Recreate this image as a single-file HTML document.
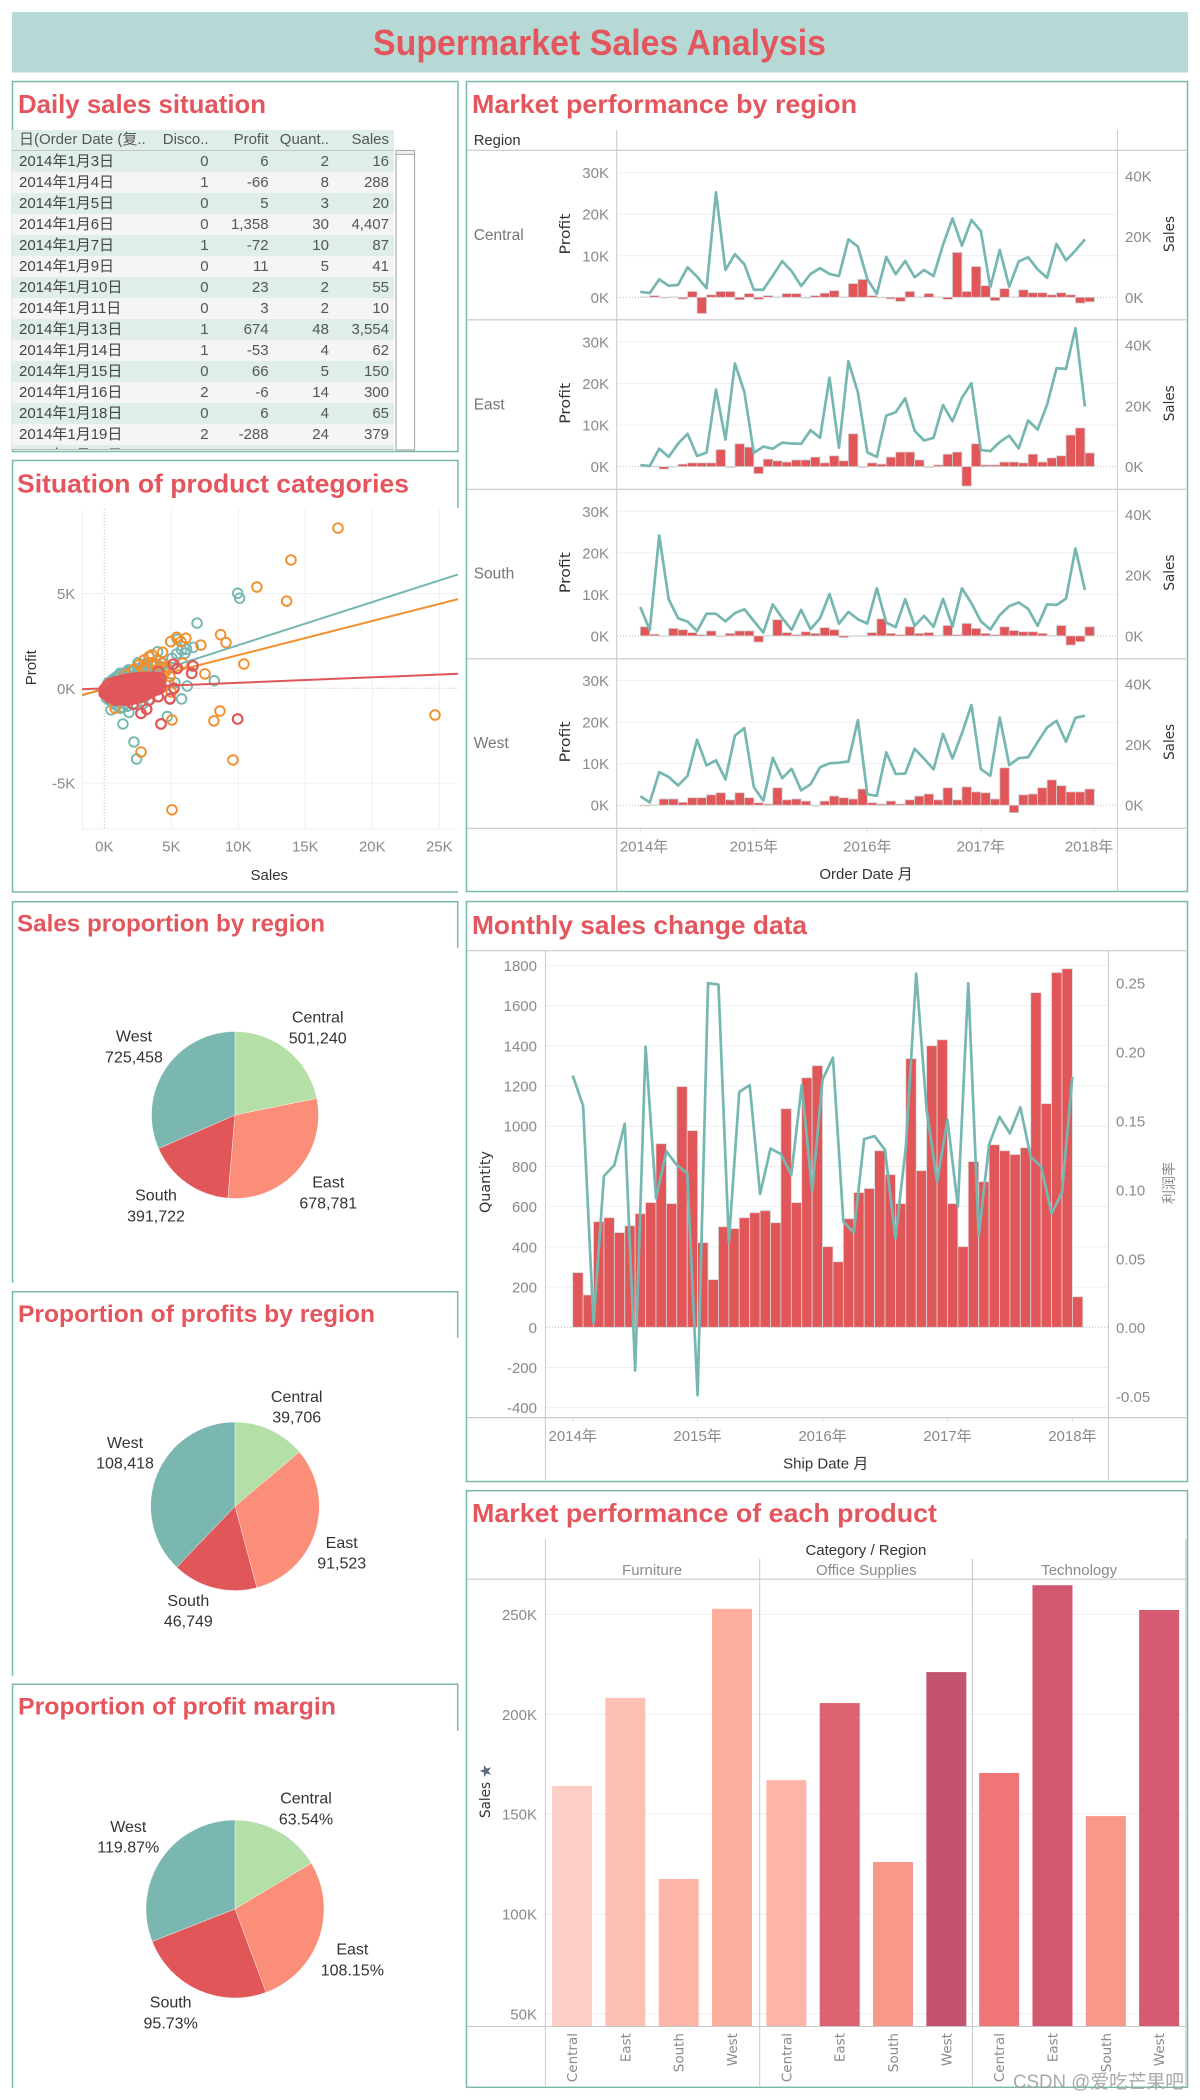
<!DOCTYPE html>
<html lang="en">
<head>
<meta charset="utf-8">
<title>Supermarket Sales Analysis</title>
<style>
  html,body{margin:0;padding:0;background:#fff;}
  #page{position:relative;width:1200px;height:2100px;overflow:hidden;background:#fff;font-family:"Liberation Sans","Noto Sans CJK SC",sans-serif;}
  #dash{position:absolute;left:0;top:0;}
  #dash text{font-family:"Liberation Sans","Noto Sans CJK SC",sans-serif;}
  #dash text.wide{font-family:"DejaVu Sans","Liberation Sans",sans-serif;}
  #table-wrap{position:absolute;left:12px;top:130px;width:382px;height:320px;overflow:hidden;border-bottom:1px solid #bbb;box-sizing:border-box;}
  #daily-table{border-collapse:collapse;table-layout:fixed;width:382px;font-size:15px;color:#555;}
  #daily-table th{height:20px;line-height:20px;padding:0 5px 0 0;background:#dfeeea;font-weight:normal;text-align:right;color:#555;border-bottom:1px solid #c4c4c4;white-space:nowrap;overflow:hidden;box-sizing:border-box;}
  #daily-table td{height:21px;line-height:21px;padding:0 5px 0 0;text-align:right;white-space:nowrap;overflow:hidden;box-sizing:border-box;}
  #daily-table th:first-child,#daily-table td:first-child{text-align:left;padding-left:7px;}
  #daily-table td:first-child{color:#444;}
  #daily-table tr:nth-child(odd) td{background:#dfeeea;}
  #daily-table tr:nth-child(even) td{background:#f5f5f5;}
</style>
</head>
<body>
<div id="page">
<svg id="dash" width="1200" height="2100" viewBox="0 0 1200 2100" xmlns="http://www.w3.org/2000/svg">
  <rect x="12" y="12" width="1176" height="60.5" fill="#b7d9d6"/>
  <text x="373" y="55" font-size="36" font-weight="bold" fill="#e4565d" textLength="453" lengthAdjust="spacingAndGlyphs">Supermarket Sales Analysis</text>

  <g fill="none" stroke="#7ab8ae" stroke-width="1.5">
    <rect x="12.5" y="81.5" width="445.5" height="370"/>
    <rect x="466.5" y="81.5" width="721" height="810"/>
    <path d="M458 508V460.5H12.5V892H458"/>
    <path d="M12.5 1282.7V901.7H457.7V947.7"/>
    <path d="M12.5 1675.7V1291.7H457.7V1337.7"/>
    <path d="M12.5 2087.7V1684.3H457.7V1730.7"/>
    <rect x="466.5" y="901.5" width="721" height="580"/>
    <rect x="466.5" y="1490.7" width="721" height="596.6"/>
  </g>

  <g font-weight="bold" fill="#e4565d">
    <text x="18" y="113" font-size="26" textLength="248" lengthAdjust="spacingAndGlyphs">Daily sales situation</text>
    <text x="472" y="113" font-size="26" textLength="385" lengthAdjust="spacingAndGlyphs">Market performance by region</text>
    <text x="17" y="492.7" font-size="26" textLength="392" lengthAdjust="spacingAndGlyphs">Situation of product categories</text>
    <text x="17" y="931.7" font-size="24.5" textLength="308" lengthAdjust="spacingAndGlyphs">Sales proportion by region</text>
    <text x="18" y="1322" font-size="24.5" textLength="357" lengthAdjust="spacingAndGlyphs">Proportion of profits by region</text>
    <text x="18" y="1714.7" font-size="24.5" textLength="318" lengthAdjust="spacingAndGlyphs">Proportion of profit margin</text>
    <text x="472" y="934" font-size="26" textLength="335" lengthAdjust="spacingAndGlyphs">Monthly sales change data</text>
    <text x="472" y="1522" font-size="26" textLength="465" lengthAdjust="spacingAndGlyphs">Market performance of each product</text>
  </g>

  <g>
    <rect x="396" y="150.5" width="18.5" height="299.5" fill="#fff" stroke="#aaa" stroke-width="1.2"/>
    <rect x="396" y="150.5" width="18.5" height="4" fill="#eee" stroke="#aaa" stroke-width="1"/>
  </g>

  <g id="market-chart"></g>
  <g id="scatter-chart"></g>
  <g id="sales-pie"></g>
  <g id="profit-pie"></g>
  <g id="margin-pie"></g>
  <g id="monthly-chart"></g>
  <g id="product-chart"></g>

  <text x="1013" y="2088" font-size="19" fill="#9a9a9a" fill-opacity="0.85" textLength="171" lengthAdjust="spacingAndGlyphs">CSDN @爱吃芒果吧</text>
</svg>

<div id="table-wrap">
<table id="daily-table">
  <colgroup><col style="width:143px"><col style="width:58.6px"><col style="width:60px"><col style="width:60.4px"><col style="width:60px"></colgroup>
  <thead><tr><th>日(Order Date (复..</th><th>Disco..</th><th>Profit</th><th>Quant..</th><th>Sales</th></tr></thead>
  <tbody>
  <tr><td>2014年1月3日</td><td>0</td><td>6</td><td>2</td><td>16</td></tr>
  <tr><td>2014年1月4日</td><td>1</td><td>-66</td><td>8</td><td>288</td></tr>
  <tr><td>2014年1月5日</td><td>0</td><td>5</td><td>3</td><td>20</td></tr>
  <tr><td>2014年1月6日</td><td>0</td><td>1,358</td><td>30</td><td>4,407</td></tr>
  <tr><td>2014年1月7日</td><td>1</td><td>-72</td><td>10</td><td>87</td></tr>
  <tr><td>2014年1月9日</td><td>0</td><td>11</td><td>5</td><td>41</td></tr>
  <tr><td>2014年1月10日</td><td>0</td><td>23</td><td>2</td><td>55</td></tr>
  <tr><td>2014年1月11日</td><td>0</td><td>3</td><td>2</td><td>10</td></tr>
  <tr><td>2014年1月13日</td><td>1</td><td>674</td><td>48</td><td>3,554</td></tr>
  <tr><td>2014年1月14日</td><td>1</td><td>-53</td><td>4</td><td>62</td></tr>
  <tr><td>2014年1月15日</td><td>0</td><td>66</td><td>5</td><td>150</td></tr>
  <tr><td>2014年1月16日</td><td>2</td><td>-6</td><td>14</td><td>300</td></tr>
  <tr><td>2014年1月18日</td><td>0</td><td>6</td><td>4</td><td>65</td></tr>
  <tr><td>2014年1月19日</td><td>2</td><td>-288</td><td>24</td><td>379</td></tr>
  <tr><td>2014年1月20日</td><td>1</td><td>-504</td><td>50</td><td>2,674</td></tr>
  </tbody>
</table>
</div>
</div>

<script>
/* ---------- Market performance by region ---------- */
const regionNames = ['Central', 'East', 'South', 'West'];
const yearLabels = ['2014年', '2015年', '2016年', '2017年', '2018年'];
const profitTicksK = [0, 10, 20, 30];
const salesTicksK = [0, 20, 40];

const centralSales = [1.8,1.4,5.9,3.8,4.1,9.9,6.8,3.0,34.6,9.0,14.2,10.9,2.5,2.5,7.1,11.9,8.6,3.7,7.7,9.6,7.7,7.0,19.1,16.7,6.0,1.1,13.3,7.6,12.0,6.6,9.0,7.0,17.3,26.0,17.0,25.5,21.8,3.3,15.6,3.5,11.8,13.2,9.2,6.4,17.6,12.2,15.4,19.1];
const centralProfit = [0.1,0.4,-0.2,0.1,-0.4,1.4,-3.9,0.6,1.4,1.4,-0.6,0.9,-0.5,0.4,0.1,0.9,0.9,-0.2,0.4,1.0,1.6,0.1,3.3,4.3,0.4,-0.1,-0.4,-1.0,1.4,0.1,0.9,0.1,-0.5,10.8,1.4,7.4,2.8,-0.8,2.1,0.1,1.8,1.1,1.1,0.6,1.1,0.6,-1.4,-1.1];
const eastSales = [0.5,0.2,5.9,3.2,7.6,10.8,3.5,4.6,25.4,8.9,34.0,24.6,4.5,6.6,5.9,7.9,7.6,7.5,12.0,9.5,29.3,6.2,34.7,24.5,4.7,3.2,16.8,17.9,22.5,11.8,8.6,9.5,20.3,14.9,22.7,27.5,5.5,5.1,8.1,10.2,6.0,15.2,12.2,20.4,32.4,32.2,45.6,19.8];
const eastProfit = [0.1,0.1,-0.6,-0.1,0.6,0.9,0.9,0.9,4.1,-0.2,5.5,4.7,-1.7,1.8,1.4,1.1,1.6,1.6,2.3,0.9,2.6,1.4,7.9,-0.2,0.9,0.6,2.3,3.5,3.5,1.6,-0.2,0.4,3.0,3.5,-4.7,5.5,0.4,0.4,1.1,1.1,0.9,3.0,1.1,2.1,2.6,7.6,9.3,3.3];
const southSales = [9.5,2.0,33.1,12.1,5.8,4.7,1.6,7.3,7.3,4.8,7.5,8.8,4.9,1.1,10.4,5.9,2.0,8.6,2.2,5.8,13.8,4.0,7.9,5.5,4.1,15.7,4.4,2.9,12.1,3.3,6.6,3.0,12.2,3.1,15.7,10.8,4.8,2.1,6.9,9.8,11.0,8.9,3.3,10.4,10.2,12.3,28.8,15.1];
const southProfit = [2.2,0.4,-0.1,1.8,1.5,0.8,0.3,1.2,-0.2,0.6,1.2,1.2,-1.5,0.1,3.9,0.8,0.3,1.0,0.6,2.0,1.5,-0.4,-0.1,-0.1,0.8,4.1,0.6,0.3,2.2,0.6,0.8,0.1,2.5,0.3,3.0,1.8,0.6,0.3,2.2,1.3,1.0,1.0,0.6,0.1,2.5,-2.2,-1.4,2.2];
const westSales = [3.0,0.9,10.9,9.3,6.5,9.7,21.6,13.1,14.8,8.5,22.9,25.4,6.0,1.5,15.6,8.9,12.0,4.9,6.9,12.5,13.8,14.0,14.4,28.0,3.6,3.1,17.4,10.3,10.4,18.6,15.3,11.8,23.5,15.4,23.7,33.0,11.9,9.7,28.9,13.2,15.5,15.8,20.8,25.6,27.8,20.9,28.8,29.5];
const westProfit = [-0.2,0.1,1.5,1.5,0.7,1.8,1.8,2.5,3.0,1.3,3.0,1.8,0.6,0.3,4.2,1.3,1.5,1.0,-0.2,1.0,2.2,1.8,1.5,3.9,0.6,0.3,1.0,0.3,1.3,2.2,2.7,1.3,4.2,1.3,4.4,3.2,3.0,1.5,9.0,-1.8,2.5,2.7,4.2,6.1,4.7,3.2,3.2,3.9];

/* ---------- Product category scatter ---------- */
const scatterXTicksK = [0, 5, 10, 15, 20, 25];
const scatterYTicksK = [-5, 0, 5];
const furnitureSales = [9.95,10.10,6.92,5.47,6.64,6.14,5.77,6.02,5.40,5.05,3.98,2.51,3.16,4.40,8.21,6.19,5.27,5.77,4.90,4.70,1.39,2.21,2.41,0.50,1.84,1.17,1.79,1.17,3.91,0.92,1.47,2.20,2.90,3.30,0.17,0.67,0.60,0.90,1.20,1.60,2.00,2.60,3.20,
  0.30,0.80,1.10,1.50,1.90,2.30,2.70,3.10,3.50,3.80,4.20,4.60,
  0.10,0.40,0.90,1.40,1.70,2.40,2.90,3.40];
const furnitureProfit = [5.01,4.75,3.44,2.58,2.16,2.06,2.02,1.85,1.81,1.58,1.93,1.35,1.32,1.32,0.40,0.12,0.30,-0.56,-0.53,-1.49,-1.88,-2.83,-3.73,-1.14,-1.27,-1.05,0.97,0.79,0.88,0.53,0.76,0.95,1.05,1.10,-0.53,-0.79,0.45,0.60,0.75,0.85,0.95,1.05,1.15,
  0.30,0.55,0.70,0.80,0.90,1.00,1.10,1.20,1.25,1.30,1.15,0.90,
  -0.35,-0.62,-0.90,-1.00,-0.95,-0.85,-0.80,-0.60];
const technologySales = [17.44,13.93,11.39,13.61,8.68,9.08,7.21,6.09,5.40,4.95,5.72,4.35,3.56,2.96,3.33,10.42,7.51,5.85,4.28,4.90,8.63,8.18,5.05,2.74,9.60,5.05,24.68,0.80,4.65,
  1.60,2.20,2.60,3.00,3.50,3.90,4.20,4.50,4.80,5.00];
const technologyProfit = [8.45,6.77,5.34,4.60,2.83,2.41,2.28,2.64,2.69,2.46,2.46,1.90,1.76,1.49,1.67,1.28,0.76,1.32,1.32,0.62,-1.20,-1.72,-1.67,-3.36,-3.78,-6.41,-1.41,-1.05,1.14,
  0.72,1.00,1.25,1.10,1.35,1.25,1.05,0.85,0.30,-0.20];
const officeSales = [5.15,5.45,6.62,6.52,5.20,4.90,4.03,3.33,3.16,2.74,4.23,9.95,4.03,2.16,
  0.0,0.0,0.0,
  0.2,0.2,0.2,
  0.4,0.4,0.4,0.4,
  0.6,0.6,0.6,0.6,
  0.8,0.8,0.8,0.8,0.8,
  1.0,1.0,1.0,1.0,1.0,
  1.2,1.2,1.2,1.2,1.2,
  1.4,1.4,1.4,1.4,1.4,
  1.6,1.6,1.6,1.6,1.6,1.6,
  1.8,1.8,1.8,1.8,1.8,
  2.0,2.0,2.0,2.0,2.0,2.0,
  2.2,2.2,2.2,2.2,2.2,
  2.4,2.4,2.4,2.4,2.4,2.4,
  2.6,2.6,2.6,2.6,2.6,
  2.8,2.8,2.8,2.8,2.8,
  3.0,3.0,3.0,3.0,3.0,
  3.2,3.2,3.2,3.2,3.2,
  3.4,3.4,3.4,3.4,3.4,
  3.6,3.6,3.6,3.6,
  3.8,3.8,3.8,3.8,
  4.0,4.0,4.0,4.0,
  4.2,4.2,4.2];
const officeProfit = [1.27,1.05,1.18,0.79,0.00,-0.56,-0.44,-0.62,-1.11,-1.32,-1.88,-1.62,0.88,-0.83,
  -0.05,-0.17,-0.27,
  0.12,-0.12,-0.35,
  0.24,0.00,-0.25,-0.50,
  0.28,0.04,-0.21,-0.46,
  0.33,0.08,-0.17,-0.42,-0.62,
  0.36,0.11,-0.14,-0.38,-0.60,
  0.40,0.15,-0.10,-0.35,-0.60,
  0.43,0.18,-0.07,-0.32,-0.57,
  0.46,0.20,-0.05,-0.30,-0.55,-0.64,
  0.48,0.22,-0.02,-0.27,-0.52,
  0.50,0.25,0.00,-0.25,-0.50,-0.60,
  0.52,0.27,0.02,-0.22,-0.47,
  0.54,0.30,0.05,-0.20,-0.45,-0.54,
  0.55,0.31,0.06,-0.19,-0.45,
  0.57,0.32,0.07,-0.18,-0.46,
  0.57,0.32,0.07,-0.18,-0.40,
  0.57,0.32,0.07,-0.18,-0.33,
  0.57,0.32,0.07,-0.15,-0.25,
  0.57,0.32,0.07,-0.17,
  0.57,0.32,0.07,-0.10,
  0.57,0.32,0.06,-0.06,
  0.50,0.25,0.02];
const furnitureTrend = [0, 0.2275];
const technologyTrend = [-0.05, 0.18];
const officeTrend = [0, 0.029];

/* ---------- Pies ---------- */
const pieRegions = ['Central', 'East', 'South', 'West'];
const salesByRegion = [501240, 678781, 391722, 725458];
const salesByRegionText = ['501,240', '678,781', '391,722', '725,458'];
const profitByRegion = [39706, 91523, 46749, 108418];
const profitByRegionText = ['39,706', '91,523', '46,749', '108,418'];
const marginByRegion = [63.54, 108.15, 95.73, 119.87];
const marginByRegionText = ['63.54%', '108.15%', '95.73%', '119.87%'];

/* ---------- Monthly sales ---------- */
const quantityTicks = [-400,-200,0,200,400,600,800,1000,1200,1400,1600,1800];
const marginTicks = [-0.05,0,0.05,0.10,0.15,0.20,0.25];
const monthlyQuantity = [272,161,525,545,471,505,565,620,913,615,1197,978,421,237,500,491,545,570,580,520,1087,620,1241,1301,401,326,540,670,690,878,759,615,1336,779,1400,1430,615,401,824,724,908,878,859,893,1664,1112,1764,1783,152];
const monthlyMargin = [0.183,0.161,0.003,0.110,0.118,0.148,-0.031,0.204,0.094,0.128,0.118,0.112,-0.049,0.250,0.249,0.062,0.171,0.176,0.097,0.130,0.126,0.111,0.176,0.099,0.180,0.196,0.077,0.069,0.137,0.139,0.129,0.065,0.131,0.257,0.158,0.106,0.151,0.088,0.250,0.067,0.133,0.153,0.141,0.160,0.124,0.117,0.083,0.098,0.182];

/* ---------- Product bars ---------- */
const productCategories = ['Furniture', 'Office Supplies', 'Technology'];
const productRegions = ['Central', 'East', 'South', 'West'];
const productTicksK = [50, 100, 150, 200, 250];
const furnitureRegionSalesK = [164.1, 208.2, 117.5, 252.8];
const officeRegionSalesK = [167.0, 205.6, 126.0, 221.1];
const technologyRegionSalesK = [170.6, 264.6, 149.0, 252.2];

const SVG_NS = 'http://www.w3.org/2000/svg';
function svgEl(tag, geometry, parent) {
  const el = document.createElementNS(SVG_NS, tag);
  for (const key in geometry) el.setAttribute(key, geometry[key]);
  parent.appendChild(el);
  return el;
}
const GRID = '#efefef', RULE = '#c8c8c8', TICK = '#8a8a8a', DARK = '#333', RED = '#e15759', TEAL = '#76b7b2';

/* ===== Market chart ===== */
(function () {
  const root = document.getElementById('market-chart');
  const regionSales = [centralSales, eastSales, southSales, westSales];
  const regionProfit = [centralProfit, eastProfit, southProfit, westProfit];
  const rowZero = r => 297.3 + 169.3 * r;
  const monthX = i => 640.3 + i * 9.46;
  const profitY = (v, r) => rowZero(r) - v * 4.155;
  const salesY = (v, r) => rowZero(r) - v * 3.035;

  for (let k = 0; k <= 4; k++) {
    const hl = svgEl('line', {x1: 467, x2: 1186, y1: 150.3 + 169.5 * k, y2: 150.3 + 169.5 * k, stroke: RULE, 'stroke-width': 1.2}, root);
    
    
  }
  [616.7, 1117.4].forEach(function (x) {
    const vl = svgEl('line', {x1: x, x2: x, y1: 130, y2: 891, stroke: RULE, 'stroke-width': 1}, root);
    
    
  });
  const regionHead = svgEl('text', {x: 473.7, y: 145, 'font-size': 15, fill: DARK, textLength: 47, lengthAdjust: 'spacingAndGlyphs'}, root);
  
  
  regionHead.textContent = 'Region';

  regionNames.forEach(function (name, r) {
    profitTicksK.forEach(function (t) {
      const g = svgEl('line', {x1: 617, x2: 1117, y1: profitY(t, r), y2: profitY(t, r), stroke: t === 0 ? '#bbb' : GRID, 'stroke-width': 1, 'stroke-dasharray': t === 0 ? '1 2' : 'none'}, root);
      
      
      const lab = svgEl('text', {x: 609, y: profitY(t, r) + 5.5, 'font-size': 15, fill: TICK, 'text-anchor': 'end'}, root);
      
      
      lab.textContent = t + 'K';
    });
    salesTicksK.forEach(function (t) {
      const lab = svgEl('text', {x: 1125, y: salesY(t, r) + 5.5, 'font-size': 15, fill: TICK}, root);
      
      
      lab.textContent = t + 'K';
    });
    const cy = 234 + 169.3 * r;
    const rn = svgEl('text', {x: 473.7, y: cy + 6, 'font-size': 15.5, fill: '#777'}, root);
    
    
    rn.textContent = name;
    const pt = svgEl('text', {x: 570, y: cy, 'font-size': 14.5, fill: DARK, class: 'wide', 'text-anchor': 'middle', transform: 'rotate(-90 570 ' + cy + ')', textLength: 41, lengthAdjust: 'spacingAndGlyphs'}, root);
    
    
    pt.textContent = 'Profit';
    const st = svgEl('text', {x: 1174, y: cy, 'font-size': 14.5, fill: DARK, class: 'wide', 'text-anchor': 'middle', transform: 'rotate(-90 1174 ' + cy + ')', textLength: 36, lengthAdjust: 'spacingAndGlyphs'}, root);
    
    
    st.textContent = 'Sales';

    regionProfit[r].forEach(function (v, i) {
      const top = Math.min(profitY(v, r), profitY(0, r));
      const h = Math.abs(profitY(v, r) - profitY(0, r));
      const bar = svgEl('rect', {x: monthX(i), y: top, width: 9.46, height: h, fill: RED, stroke: '#d2d2d2', 'stroke-width': 0.8}, root);
      
      
    });
    const line = svgEl('polyline', {fill: 'none', stroke: TEAL, 'stroke-width': 2.7, 'stroke-linejoin': 'round',
      points: regionSales[r].map((v, i) => monthX(i) + ',' + salesY(v, r)).join(' ')}, root);
    
    
  });

  yearLabels.forEach(function (y, k) {
    const x = monthX(k * 12);
    const tk = svgEl('line', {x1: x, x2: x, y1: 828.5, y2: 833, stroke: '#ddd', 'stroke-width': 1}, root);
    
    
    const lab = svgEl('text', {x: Math.min(1089, Math.max(644, x)), y: 851.7, 'font-size': 15, fill: TICK, 'text-anchor': 'middle'}, root);
    
    
    lab.textContent = y;
  });
  const xt = svgEl('text', {x: 866, y: 879, 'font-size': 15, fill: DARK, 'text-anchor': 'middle'}, root);
  
  
  xt.textContent = 'Order Date 月';
})();

/* ===== Scatter ===== */
(function () {
  const root = document.getElementById('scatter-chart');
  const sx = s => 104.3 + s * 13.4;
  const sy = p => 688.3 - p * 18.96;

  const leftRule = svgEl('line', {x1: 82.3, x2: 82.3, y1: 509, y2: 829, stroke: GRID}, root);
  
  
  const bottomRule = svgEl('line', {x1: 82.3, x2: 458, y1: 829, y2: 829, stroke: GRID}, root);
  
  

  scatterXTicksK.forEach(function (t) {
    const g = svgEl('line', {x1: sx(t), x2: sx(t), y1: 509, y2: 829, stroke: t === 0 ? '#bbb' : GRID, 'stroke-dasharray': t === 0 ? '1 2' : 'none'}, root);
    
    
    const lab = svgEl('text', {x: sx(t), y: 851.7, 'font-size': 15, fill: TICK, 'text-anchor': 'middle'}, root);
    
    
    lab.textContent = t + 'K';
  });
  scatterYTicksK.forEach(function (t) {
    const g = svgEl('line', {x1: 82.3, x2: 458, y1: sy(t), y2: sy(t), stroke: t === 0 ? '#bbb' : GRID, 'stroke-dasharray': t === 0 ? '1 2' : 'none'}, root);
    
    
    const lab = svgEl('text', {x: 75.3, y: sy(t) + 5.5, 'font-size': 15, fill: TICK, 'text-anchor': 'end'}, root);
    
    
    lab.textContent = t + 'K';
  });
  const ya = svgEl('text', {x: 36, y: 667.7, 'font-size': 15, fill: DARK, 'text-anchor': 'middle', transform: 'rotate(-90 36 667.7)'}, root);
  
  
  ya.textContent = 'Profit';
  const xa = svgEl('text', {x: 269.3, y: 880, 'font-size': 15, fill: DARK, 'text-anchor': 'middle'}, root);
  
  
  xa.textContent = 'Sales';

  const xMin = -1.66, xMax = 26.4;

  furnitureSales.forEach(function (s, i) {
    const c = svgEl('circle', {cx: sx(s), cy: sy(furnitureProfit[i]), r: 4.8, fill: 'none', stroke: TEAL, 'stroke-width': 1.9}, root);
    
    
  });
  technologySales.forEach(function (s, i) {
    const c = svgEl('circle', {cx: sx(s), cy: sy(technologyProfit[i]), r: 4.8, fill: 'none', stroke: '#f28e2b', 'stroke-width': 1.9}, root);
    
    
  });

  const lineFurniture = svgEl('line', {x1: sx(xMin), y1: sy(furnitureTrend[0] + furnitureTrend[1] * xMin), x2: sx(xMax), y2: sy(furnitureTrend[0] + furnitureTrend[1] * xMax), stroke: TEAL, 'stroke-width': 2}, root);
  
  
  const lineTech = svgEl('line', {x1: sx(xMin), y1: sy(technologyTrend[0] + technologyTrend[1] * xMin), x2: sx(xMax), y2: sy(technologyTrend[0] + technologyTrend[1] * xMax), stroke: '#f28e2b', 'stroke-width': 2}, root);
  
  

  officeSales.forEach(function (s, i) {
    const c = svgEl('circle', {cx: sx(s), cy: sy(officeProfit[i]), r: 4.8, fill: 'none', stroke: RED, 'stroke-width': 2.2}, root);
    
    
  });

  const lineOffice = svgEl('line', {x1: sx(xMin), y1: sy(officeTrend[0] + officeTrend[1] * xMin), x2: sx(xMax), y2: sy(officeTrend[0] + officeTrend[1] * xMax), stroke: RED, 'stroke-width': 2}, root);
  
  
})();

/* ===== Pies ===== */
function drawPie(rootId, cx, cy, r, values, printed, nudges) {
  const root = document.getElementById(rootId);
  const colors = ['#b4e0a7', '#fa8e78', '#e15759', '#7ab7b0'];
  const total = values.reduce((a, b) => a + b, 0);
  let start = 0;
  values.forEach(function (v, i) {
    const sweep = v / total * Math.PI * 2;
    const end = start + sweep;
    const x1 = cx + r * Math.sin(start), y1 = cy - r * Math.cos(start);
    const x2 = cx + r * Math.sin(end), y2 = cy - r * Math.cos(end);
    const slice = svgEl('path', {d: 'M' + cx + ' ' + cy + 'L' + x1 + ' ' + y1 + 'A' + r + ' ' + r + ' 0 ' + (sweep > Math.PI ? 1 : 0) + ' 1 ' + x2 + ' ' + y2 + 'Z', fill: colors[i], stroke: '#fff', 'stroke-width': 0.4}, root);
    
    

    const mid = start + sweep / 2;
    const lx = cx + (r + 38) * Math.sin(mid) + nudges[i][0];
    const ly = cy - (r + 38) * Math.cos(mid) + nudges[i][1];
    const nameText = svgEl('text', {x: lx, y: ly - 10.3, 'font-size': 16, fill: '#333', 'text-anchor': 'middle'}, root);
    
    
    nameText.textContent = pieRegions[i];
    const valueText = svgEl('text', {x: lx, y: ly + 10.3, 'font-size': 16, fill: '#333', 'text-anchor': 'middle'}, root);
    
    
    valueText.textContent = printed[i];
    start = end;
  });
}
drawPie('sales-pie', 235, 1115, 83.5, salesByRegion, salesByRegionText, [[5.8, 12.1], [2.6, 2.1], [-8.2, -2.8], [0.7, 3.5]]);
drawPie('profit-pie', 235, 1506.3, 84.3, profitByRegion, profitByRegionText, [[10.1, 16.8], [-10, 15.4], [-16.4, -8.5], [3.5, -2.6]]);
drawPie('margin-pie', 235, 1909, 89, marginByRegion, marginByRegionText, [[8.4, 15.5], [-2.5, 14], [-12.5, -6.9], [-1.8, 4.7]]);

/* ===== Monthly chart ===== */
(function () {
  const root = document.getElementById('monthly-chart');
  const mx = i => 572.7 + i * 10.41;
  const qy = v => 1327.3 - v * 0.2011;
  const my = v => 1327.7 - v * 1378;

  [950.7, 1417.6].forEach(function (y) {
    const hl = svgEl('line', {x1: 467, x2: 1186, y1: y, y2: y, stroke: RULE, 'stroke-width': 1.2}, root);
    
    
  });
  [545.4, 1108.4].forEach(function (x) {
    const vl = svgEl('line', {x1: x, x2: x, y1: 950.7, y2: 1480, stroke: RULE, 'stroke-width': 1}, root);
    
    
  });
  quantityTicks.forEach(function (t) {
    const g = svgEl('line', {x1: 546, x2: 1108, y1: qy(t), y2: qy(t), stroke: t === 0 ? '#bbb' : GRID, 'stroke-dasharray': t === 0 ? '1 2' : 'none'}, root);
    
    
    const lab = svgEl('text', {x: 537, y: qy(t) + 5.5, 'font-size': 15, fill: TICK, 'text-anchor': 'end'}, root);
    
    
    lab.textContent = String(t);
  });
  marginTicks.forEach(function (t) {
    const lab = svgEl('text', {x: 1116, y: my(t) + 5.5, 'font-size': 15, fill: TICK}, root);
    
    
    lab.textContent = t.toFixed(2);
  });
  monthlyQuantity.forEach(function (v, i) {
    const bar = svgEl('rect', {x: mx(i), y: qy(v), width: 10.41, height: qy(0) - qy(v), fill: RED, stroke: '#d8d8d8', 'stroke-width': 0.8}, root);
    
    
  });
  const marginLine = svgEl('polyline', {fill: 'none', stroke: TEAL, 'stroke-width': 2.7, 'stroke-linejoin': 'round',
    points: monthlyMargin.map((v, i) => mx(i) + ',' + my(v)).join(' ')}, root);
  
  

  yearLabels.forEach(function (y, k) {
    const x = mx(k * 12);
    const tk = svgEl('line', {x1: x, x2: x, y1: 1417.6, y2: 1422, stroke: '#ddd'}, root);
    
    
    const lab = svgEl('text', {x: x, y: 1441, 'font-size': 15, fill: TICK, 'text-anchor': 'middle'}, root);
    
    
    lab.textContent = y;
  });
  const xt = svgEl('text', {x: 825.7, y: 1468.6, 'font-size': 15, fill: DARK, 'text-anchor': 'middle'}, root);
  
  
  xt.textContent = 'Ship Date 月';
  const ql = svgEl('text', {x: 490, y: 1182, 'font-size': 14.5, fill: DARK, class: 'wide', 'text-anchor': 'middle', transform: 'rotate(-90 490 1182)', textLength: 62, lengthAdjust: 'spacingAndGlyphs'}, root);
  
  
  ql.textContent = 'Quantity';
  const mt = svgEl('text', {x: 1174, y: 1183, 'font-size': 14, fill: '#8a8a8a', 'text-anchor': 'middle', transform: 'rotate(-90 1174 1183)'}, root);
  
  
  mt.textContent = '利润率';
})();

/* ===== Product chart ===== */
(function () {
  const root = document.getElementById('product-chart');
  const categoryValues = [furnitureRegionSalesK, officeRegionSalesK, technologyRegionSalesK];
  const barShades = [
    ['#fdcec6', '#fcc0b4', '#fdb5a7', '#fdae9d'],
    ['#fdb5a7', '#de6370', '#f8988a', '#c35370'],
    ['#ef7576', '#d2586f', '#f9988a', '#d55c70']
  ];
  const paneLeft = [545.4, 759.7, 972.5];
  const paneWidth = 213.3;
  const bottomY = 2026.5;
  const py = v => 2013.8 - (v - 50) * 1.997;

  const topRule = svgEl('line', {x1: 467, x2: 1186, y1: 1579.2, y2: 1579.2, stroke: RULE, 'stroke-width': 1.2}, root);
  
  

  productTicksK.forEach(function (t) {
    const g = svgEl('line', {x1: 546, x2: 1186, y1: py(t), y2: py(t), stroke: GRID}, root);
    
    
    const lab = svgEl('text', {x: 537, y: py(t) + 5.5, 'font-size': 15, fill: TICK, 'text-anchor': 'end'}, root);
    
    
    lab.textContent = t + 'K';
  });

  categoryValues.forEach(function (values, c) {
    const slot = paneWidth / values.length;
    values.forEach(function (v, i) {
      const center = paneLeft[c] + slot * (i + 0.5);
      const bar = svgEl('rect', {x: center - 20, y: py(v), width: 40, height: bottomY - py(v), fill: barShades[c][i]}, root);
      
      
      const lab = svgEl('text', {x: center + 5, y: 2033, 'font-size': 13.5, fill: TICK, class: 'wide', 'text-anchor': 'end', transform: 'rotate(-90 ' + (center + 5) + ' 2033)'}, root);
      
      
      lab.textContent = productRegions[i];
    });
    const head = svgEl('text', {x: paneLeft[c] + paneWidth / 2, y: 1575, 'font-size': 15, fill: TICK, 'text-anchor': 'middle'}, root);
    
    
    head.textContent = productCategories[c];
  });

  const bottomRule = svgEl('line', {x1: 467, x2: 1186, y1: bottomY, y2: bottomY, stroke: RULE, 'stroke-width': 1}, root);
  
  

  [[545.4, 1539], [759.7, 1559], [972.5, 1559], [1185.8, 1539]].forEach(function (seg) {
    const vl = svgEl('line', {x1: seg[0], x2: seg[0], y1: seg[1], y2: 2086, stroke: RULE, 'stroke-width': 1}, root);
    
    
  });

  const ch = svgEl('text', {x: 865.9, y: 1555, 'font-size': 15, fill: DARK, 'text-anchor': 'middle'}, root);
  
  
  ch.textContent = 'Category / Region';
  const st = svgEl('text', {x: 490, y: 1800, 'font-size': 14.5, fill: DARK, class: 'wide', 'text-anchor': 'middle', transform: 'rotate(-90 490 1800)', textLength: 36, lengthAdjust: 'spacingAndGlyphs'}, root);
  
  
  st.textContent = 'Sales';
  const star = svgEl('text', {x: 490, y: 1771, 'font-size': 13, fill: '#5a6a7a', 'text-anchor': 'middle', transform: 'rotate(-90 490 1771)'}, root);
  
  
  star.textContent = '★';
})();
</script>
</body>
</html>
